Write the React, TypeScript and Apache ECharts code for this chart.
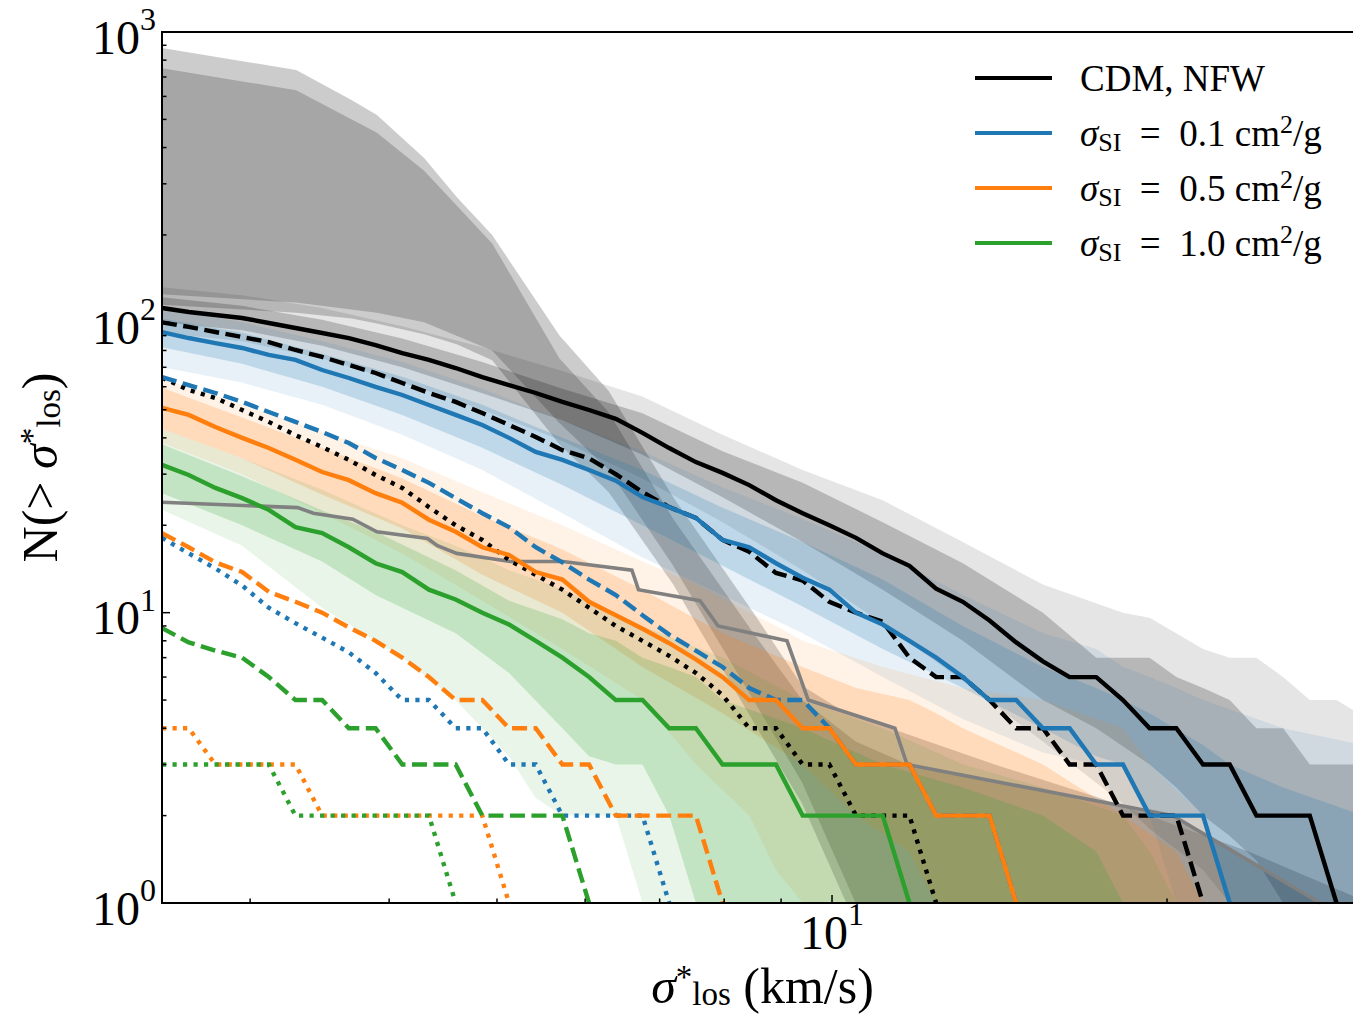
import React, { useEffect, useRef } from 'react';
import * as echarts from 'echarts';

const FONT = '"Liberation Serif", "DejaVu Serif", serif';

// velocity dispersion grid (km/s)
const sigmaGrid = [2.5, 2.642, 2.792, 2.951, 3.118, 3.295, 3.482, 3.68, 3.889, 4.11, 4.343, 4.59, 4.85, 5.126, 5.417, 5.724, 6.049, 6.393, 6.756, 7.14, 7.545, 7.973, 8.426, 8.905, 9.41, 9.945, 10.509, 11.106, 11.737, 12.403, 13.108, 13.852, 14.638, 15.47, 16.348, 17.276, 18.257, 19.293, 20.389, 21.546, 22.77, 24.063, 25.429, 26.873, 28.399, 30.0];

// cumulative counts N(>sigma) on the grid
const cdmSolid = [112, 108.5, 106, 103.5, 99.5, 95.6, 91.9, 88.3, 83.5, 78.4, 74.2, 69.6, 64.8, 60.8, 57.1, 53.2, 49.9, 46.5, 41.6, 36.9, 33, 30.3, 27.5, 24.4, 22, 20, 18.1, 16, 14.5, 12.1, 10.9, 9.4, 7.9, 6.8, 6, 6, 5, 4, 4, 3, 3, 2, 2, 2, 1];
const cdmDashed = [100, 96.4, 92.6, 89, 85.5, 80.3, 76, 71.3, 66.9, 61.8, 57.1, 53.2, 48.7, 44.3, 40.3, 36.3, 34, 30, 26, 23.1, 21.2, 17.8, 16.2, 13.7, 12.9, 10.9, 10, 9.3, 7, 6, 6, 5, 4, 4, 3, 3, 2, 2, 2, 1];
const cdmDotted = [64.5, 58.5, 54.9, 49.9, 45.4, 40.9, 37.2, 33.6, 29.8, 26.9, 23.1, 20, 17.8, 15.2, 13.5, 12, 10.4, 9, 8, 7.1, 6.2, 5.2, 4, 4, 3, 3, 2, 2, 2, 1];
const si01Solid = [92.6, 88.3, 84.8, 81.6, 77.2, 74.2, 68.5, 64.3, 59.9, 56.2, 51.9, 48, 44.3, 40, 35.8, 33.6, 31, 28.5, 25, 23.1, 21.2, 17.8, 16.8, 14.8, 13.2, 12, 10, 9.1, 8, 7, 6, 5, 5, 4, 4, 3, 3, 2, 2, 2, 1];
const si01Dashed = [64.8, 60.8, 57.1, 53.2, 49.1, 45.4, 41.9, 38.4, 34.1, 31, 28, 24.8, 22, 19.7, 16.8, 14.9, 13, 11.5, 9.8, 8.4, 7.4, 6.5, 5.5, 5, 5, 4, 3, 3, 3, 2, 2, 2, 1];
const si01Dotted = [18.1, 16, 14.2, 12.4, 10.4, 9.2, 8.2, 7.3, 6.2, 5, 5, 4, 4, 3, 3, 2, 2, 2, 2, 1];
const si05Solid = [50.7, 48, 43.6, 40, 36.9, 33.6, 30.5, 28.6, 25.8, 23.9, 20.9, 19, 16.8, 15.8, 13.8, 13, 10.9, 9.8, 8.8, 7.85, 6.9, 6, 5, 5, 4, 4, 3, 3, 3, 2, 2, 2, 1];
const si05Dashed = [18.8, 16.8, 14.9, 13.8, 11.8, 10.9, 10, 8.9, 8, 7, 6, 5, 5, 4, 4, 3, 3, 2, 2, 2, 2, 1];
const si05Dotted = [4, 4, 3, 3, 3, 3, 2, 2, 2, 2, 2, 2, 2, 1];
const si10Solid = [32.3, 29.8, 26.9, 24.8, 22.6, 19.7, 18.8, 16.8, 14.8, 13.8, 12, 11.1, 10, 9.1, 8, 7, 6, 5, 5, 4, 4, 3, 3, 3, 2, 2, 2, 2, 1];
const si10Dashed = [8.85, 7.9, 7.4, 7, 6, 5, 5, 4, 4, 3, 3, 3, 2, 2, 2, 2, 1];
const si10Dotted = [3, 3, 3, 3, 3, 2, 2, 2, 2, 2, 2, 1];

// observed counts [sigma, N]
const observed = [[2.5, 24], [3.31, 23], [3.42, 22], [3.71, 21], [3.9, 19], [4.33, 18], [4.42, 17], [4.6, 16], [5.14, 15], [5.73, 15], [6.61, 14], [6.7, 12], [7.61, 11], [7.9, 9], [9.11, 8], [9.52, 5], [11.39, 4], [11.68, 3], [20.25, 2], [27.45, 1]];

// bands [sigma, low, high]
const bigBandOuter = [[2.5, 115, 881], [3.3, 108, 740], [3.7, 103, 583], [3.9, 99, 518], [4.3, 91, 368], [4.6, 84, 270], [4.95, 74, 200], [5.69, 38, 90], [6.3, 26, 58], [7.2, 12.5, 25], [8.5, 4.2, 10], [9.4, 2.2, 5.6], [10.3, 1, 4.5], [11.5, 1, 3.9], [14, 1, 3.0], [17.4, 1, 2.3], [23.7, 1, 1.5], [29.5, 1, 1.05]];
const bigBandInner = [[2.5, 125, 750], [3.3, 117, 630], [3.9, 108, 450], [4.3, 100, 333], [4.95, 80, 187], [5.69, 45, 75], [6.3, 31, 49], [7.2, 14.5, 21], [8.5, 5, 8.5], [9.4, 2.6, 5], [10.5, 1, 3.6], [11.7, 1, 3], [20.25, 1, 2], [27.5, 1, 1]];
const cdmBand2 = [[2.5, 92, 132], [2.951, 86, 124], [3.482, 75, 112], [4.11, 62, 97], [4.85, 50, 82], [5.724, 39, 68], [6.756, 29, 55.5], [7.973, 20.5, 41], [9.41, 14, 31], [11.106, 9.2, 24.4], [13.108, 5.8, 17.5], [15.47, 3.6, 12.5], [18.257, 2.2, 10], [19.293, 1.8, 9.6], [21.546, 1.3, 7.5], [22.77, 1, 7], [24.063, 1, 7], [25.429, 1, 6], [26.873, 1, 5], [28.399, 1, 5], [30, 1, 4.4]];
const cdmBand1 = [[2.5, 100, 122], [2.951, 94, 114], [3.482, 83, 102], [4.11, 70, 88], [4.85, 57, 73], [5.724, 46, 59], [6.756, 35, 48.6], [7.973, 25, 36], [9.41, 17.5, 28], [11.106, 12, 20.5], [13.108, 8, 14.8], [15.47, 5, 10], [17.276, 4, 7], [19.293, 3, 7], [20.389, 2.5, 6], [21.546, 2, 5.5], [22.77, 1.7, 5], [24.063, 1.4, 4], [25.429, 1, 4], [26.873, 1, 3], [30, 1, 3]];
const si01Band2 = [[2.5, 70, 112], [2.951, 62, 100], [3.482, 52, 86], [4.11, 41, 73], [4.85, 31, 59], [5.724, 22, 46], [6.756, 15.5, 36], [7.973, 11.5, 27], [9.41, 8.5, 21], [11.106, 6, 16], [13.108, 4.3, 11.5], [15.47, 3.3, 8.5], [17.276, 3, 7.5], [18.257, 2, 6.5], [19.293, 2, 6], [20.389, 1, 5.5], [21.546, 1, 5], [25.429, 1, 4], [30, 1, 3.5]];
const si01Band1 = [[2.5, 82, 103], [2.951, 72, 92], [3.482, 60, 78], [4.11, 48, 65], [4.85, 37, 52], [5.724, 27.5, 40], [6.756, 20, 31], [7.973, 14.5, 23], [9.41, 10.5, 17.5], [11.106, 7.5, 13], [13.108, 5.5, 9], [15.47, 4, 6.5], [17.276, 3.2, 5.5], [18.257, 3, 5], [19.293, 2, 4.5], [21.546, 2, 3.5], [22.77, 1, 3], [25.429, 1, 2.5], [30, 1, 2]];
const si05Band2 = [[2.5, 38.5, 64], [2.951, 30, 52], [3.482, 22, 42], [4.11, 16, 34], [4.85, 11, 26], [5.724, 7.5, 20], [6.756, 5, 15], [7.545, 3, 12.5], [8.426, 2, 10], [8.905, 1.3, 9], [9.41, 1, 8], [11.106, 1, 6.5], [13.108, 1, 5.5], [15.47, 1, 5], [18.257, 1, 4], [19.293, 1, 3], [21.546, 1, 2], [22.77, 1, 1]];
const si05Band1 = [[2.5, 43, 59.5], [2.951, 34, 47], [3.482, 25.5, 37], [4.11, 19.5, 29], [4.85, 13.5, 21.5], [5.724, 10, 16.5], [6.756, 6.5, 12], [7.973, 4.5, 8.5], [9.41, 3, 6.5], [10.509, 2, 5.5], [11.737, 1.5, 5], [12.403, 1, 4.5], [13.108, 1, 4], [15.47, 1, 3], [18.257, 1, 2], [20.389, 1, 1.5], [21.546, 1, 1]];
const si10Band2 = [[2.5, 22.6, 43], [2.951, 17, 34], [3.482, 10.4, 26.5], [4.11, 7, 20], [4.59, 5, 17], [4.85, 4, 15.5], [5.126, 3.2, 14], [5.417, 2.3, 13], [5.724, 2, 12], [6.393, 2, 10], [6.756, 1, 9], [7.973, 1, 7], [9.41, 1, 5], [11.106, 1, 4], [13.108, 1, 3], [15.47, 1, 2.5], [18.257, 1, 2], [19.293, 1, 1.5], [20.389, 1, 1]];
const si10Band1 = [[2.5, 25.8, 38], [2.951, 20, 29.5], [3.482, 15, 22.5], [3.889, 11.5, 19], [4.59, 8.5, 14], [5.126, 6.2, 11], [5.724, 4, 9.5], [6.049, 3.2, 8.5], [6.393, 3, 8], [6.756, 3, 7], [7.14, 2, 6.5], [7.545, 1, 6], [7.973, 1, 5], [9.41, 1, 4], [11.106, 1, 3], [13.108, 1, 2.5], [15.47, 1, 2], [17.276, 1, 1.5], [18.257, 1, 1]];

// ticks
const xMajorTicks = [10];
const xMinorTicks = [3, 4, 5, 6, 7, 8, 9, 20];
const yMajorTicks = [10, 100];
const yMinorTicks = [2, 3, 4, 5, 6, 7, 8, 9, 20, 30, 40, 50, 60, 70, 80, 90, 200, 300, 400, 500, 600, 700, 800, 900];

const legendNames = ['CDM, NFW', 'σSI = 0.1 cm2/g', 'σSI = 0.5 cm2/g', 'σSI = 1.0 cm2/g'];
const EQ = '\u2002=\u2002';
const legendRich: Record<string, string> = {
  'CDM, NFW': 'CDM, NFW',
  'σSI = 0.1 cm2/g': '{it|σ}{sub|SI}' + EQ + '0.1 cm{sup|2}/g',
  'σSI = 0.5 cm2/g': '{it|σ}{sub|SI}' + EQ + '0.5 cm{sup|2}/g',
  'σSI = 1.0 cm2/g': '{it|σ}{sub|SI}' + EQ + '1.0 cm{sup|2}/g',
};

const BLACK = '#000000';
const BLUE = '#1f77b4';
const ORANGE = '#ff7f0e';
const GREEN = '#2ca02c';
const GRAY = '#808080';

function rgba(hex: string, a: number) {
  const r = parseInt(hex.slice(1, 3), 16);
  const g = parseInt(hex.slice(3, 5), 16);
  const b = parseInt(hex.slice(5, 7), 16);
  return `rgba(${r},${g},${b},${a})`;
}

function onGrid(values: number[]) {
  return values.map((v, i) => [sigmaGrid[i], v]);
}

function band(name: string, data: number[][], fill: string, z: number) {
  return {
    type: 'custom',
    name,
    silent: true,
    clip: true,
    z,
    data,
    encode: { x: 0, y: 1 },
    renderItem: (params: any, api: any) => {
      if (params.dataIndex !== 0) return null;
      const up = data.map((d) => api.coord([d[0], d[2]]));
      const lo = data.map((d) => api.coord([d[0], d[1]])).reverse();
      return {
        type: 'polygon',
        silent: true,
        shape: { points: up.concat(lo) },
        style: { fill, stroke: 'none' },
      };
    },
  };
}

const LW = 4.4;
const DASH = [15, 6.5];
const DOT = [4.2, 6.3];

function line(name: string, data: number[][], color: string, type: any, width = LW, z = 10) {
  return {
    type: 'line',
    name,
    data,
    symbol: 'none',
    showSymbol: false,
    silent: true,
    z,
    itemStyle: { color },
    lineStyle: { color, width, type, cap: 'butt', join: 'miter' },
    emphasis: { disabled: true },
  };
}

const ticksSeries = {
  type: 'custom',
  name: 'frame',
  silent: true,
  clip: false,
  z: 30,
  data: [[10, 10]],
  encode: { x: 0, y: 1 },
  renderItem: (params: any, api: any) => {
    if (params.dataIndex !== 0) return null;
    const cs = params.coordSys;
    const children: any[] = [];
    const st = { stroke: '#000', lineWidth: 1.5 };
    const bottom = cs.y + cs.height;
    const left = cs.x;
    xMajorTicks.forEach((v) => {
      const p = api.coord([v, 1]);
      children.push({ type: 'line', shape: { x1: p[0], y1: bottom, x2: p[0], y2: bottom - 8 }, style: st });
    });
    xMinorTicks.forEach((v) => {
      const p = api.coord([v, 1]);
      children.push({ type: 'line', shape: { x1: p[0], y1: bottom, x2: p[0], y2: bottom - 4.5 }, style: st });
    });
    yMajorTicks.forEach((v) => {
      const p = api.coord([2.5, v]);
      children.push({ type: 'line', shape: { x1: left, y1: p[1], x2: left + 8, y2: p[1] }, style: st });
    });
    yMinorTicks.forEach((v) => {
      const p = api.coord([2.5, v]);
      children.push({ type: 'line', shape: { x1: left, y1: p[1], x2: left + 4.5, y2: p[1] }, style: st });
    });
    children.push({
      type: 'rect',
      shape: { x: cs.x, y: cs.y, width: cs.width, height: cs.height },
      style: { fill: 'none', stroke: '#000', lineWidth: 2 },
    });
    return { type: 'group', children };
  },
};

function powLabel(v: number) {
  const e = Math.log10(v);
  if (Math.abs(e - Math.round(e)) > 1e-6) return '';
  return `{b|10}{e|${Math.round(e)}}`;
}

const tickRich = {
  b: { fontSize: 48, fontFamily: FONT, color: '#000', padding: [10, 0, 0, 0] },
  e: { fontSize: 32, fontFamily: FONT, color: '#000', verticalAlign: 'top' },
};

const nameRich = {
  it: { fontSize: 50, fontFamily: FONT, fontStyle: 'italic', color: '#000' },
  sup: { fontSize: 33, fontFamily: FONT, color: '#000', verticalAlign: 'top' },
  sub: { fontSize: 33, fontFamily: FONT, color: '#000', verticalAlign: 'bottom' },
};

export default function App() {
  const ref = useRef<HTMLDivElement>(null);
  useEffect(() => {
    if (!ref.current) return;
    const chart = echarts.init(ref.current, undefined, { renderer: 'svg' });
    const option: any = {
      animation: false,
      backgroundColor: '#ffffff',
      textStyle: { fontFamily: FONT },
      grid: { left: 162, right: 17, top: 32, bottom: 116, show: false },
      xAxis: {
        type: 'log',
        logBase: 10,
        min: 2.5,
        max: 30,
        axisLine: { show: false },
        axisTick: { show: false },
        splitLine: { show: false },
        axisLabel: { margin: -5, formatter: powLabel, rich: tickRich, showMinLabel: true, showMaxLabel: true },
        name: '{it|σ}{sup|*}{sub|los} (km/s)',
        nameLocation: 'middle',
        nameGap: 54,
        nameTextStyle: { fontSize: 50, fontFamily: FONT, color: '#000', rich: nameRich },
      },
      yAxis: {
        type: 'log',
        logBase: 10,
        min: 1,
        max: 1000,
        axisLine: { show: false },
        axisTick: { show: false },
        splitLine: { show: false },
        axisLabel: { margin: 6, formatter: powLabel, rich: tickRich },
        name: 'N(> {it|σ}{sup|*}{sub|los})',
        nameLocation: 'middle',
        nameRotate: 90,
        nameGap: 97,
        nameTextStyle: { fontSize: 50, fontFamily: FONT, color: '#000', rich: nameRich },
      },
      legend: {
        data: legendNames,
        orient: 'vertical',
        left: 975,
        top: 56,
        padding: 0,
        itemWidth: 77,
        itemHeight: 4,
        itemGap: 11,
        icon: 'rect',
        selectedMode: false,
        formatter: (n: string) => legendRich[n] || n,
        textStyle: {
          fontSize: 37,
          fontFamily: FONT,
          color: '#000',
          lineHeight: 44,
          padding: [0, 0, 0, 23],
          rich: {
            it: { fontSize: 37, fontFamily: FONT, fontStyle: 'italic', color: '#000' },
            sub: { fontSize: 26, fontFamily: FONT, color: '#000', verticalAlign: 'bottom' },
            sup: { fontSize: 26, fontFamily: FONT, color: '#000', verticalAlign: 'top' },
          },
        },
      },
      series: [
        band('big outer', bigBandOuter, rgba(GRAY, 0.4), 1),
        band('big inner', bigBandInner, rgba(GRAY, 0.5), 1),
        band('cdm 2s', cdmBand2, rgba(BLACK, 0.1), 2),
        band('cdm 1s', cdmBand1, rgba(BLACK, 0.2), 2),
        band('si01 2s', si01Band2, rgba(BLUE, 0.1), 2),
        band('si01 1s', si01Band1, rgba(BLUE, 0.2), 2),
        band('si05 2s', si05Band2, rgba(ORANGE, 0.1), 2),
        band('si05 1s', si05Band1, rgba(ORANGE, 0.2), 2),
        band('si10 2s', si10Band2, rgba(GREEN, 0.1), 2),
        band('si10 1s', si10Band1, rgba(GREEN, 0.2), 2),
        line('observed', observed, GRAY, 'solid', 3.6, 9),
        line(legendNames[0], onGrid(cdmSolid), BLACK, 'solid'),
        line('cdm dashed', onGrid(cdmDashed), BLACK, DASH),
        line('cdm dotted', onGrid(cdmDotted), BLACK, DOT),
        line(legendNames[1], onGrid(si01Solid), BLUE, 'solid'),
        line('si01 dashed', onGrid(si01Dashed), BLUE, DASH),
        line('si01 dotted', onGrid(si01Dotted), BLUE, DOT),
        line(legendNames[2], onGrid(si05Solid), ORANGE, 'solid'),
        line('si05 dashed', onGrid(si05Dashed), ORANGE, DASH),
        line('si05 dotted', onGrid(si05Dotted), ORANGE, DOT),
        line(legendNames[3], onGrid(si10Solid), GREEN, 'solid'),
        line('si10 dashed', onGrid(si10Dashed), GREEN, DASH),
        line('si10 dotted', onGrid(si10Dotted), GREEN, DOT),
        ticksSeries,
      ],
    };
    chart.setOption(option);
    return () => chart.dispose();
  }, []);
  return (
    <div style={{ position: 'absolute', left: 0, top: 0, width: 1353, height: 1019, overflow: 'hidden', background: '#fff' }}>
      <div ref={ref} style={{ width: 1380, height: 1019 }} />
    </div>
  );
}
